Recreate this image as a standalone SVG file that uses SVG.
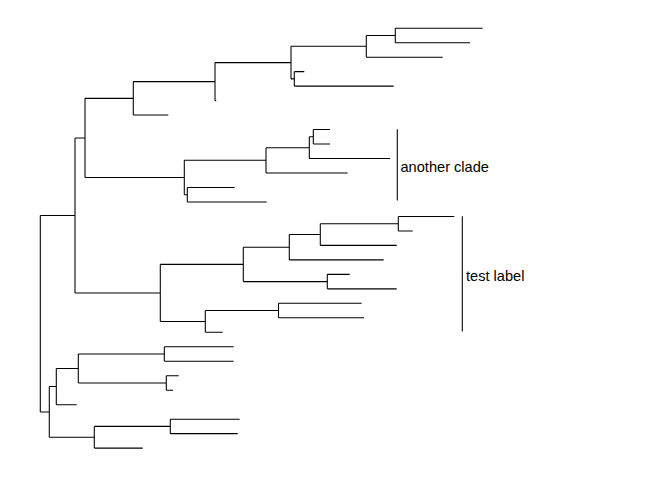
<svg xmlns="http://www.w3.org/2000/svg" width="672" height="480" viewBox="0 0 672 480">
<style>
.br{fill:none;stroke:#000;stroke-width:1.07;stroke-linecap:butt}
.lbl{font-family:"Liberation Sans",Arial,sans-serif;font-size:14.6px;fill:#000}
</style>
<rect width="672" height="480" fill="#fff"/>
<g id="connectors">
<path class="br" d="M40.3,215.42V411.92M40.3,215.42H75M40.3,411.92H49.3"/>
<path class="br" d="M75,137.93V292.91M75,137.93H85M75,292.91H160.3"/>
<path class="br" d="M85,98.34V177.53M85,98.34H133.3M85,177.53H184.3"/>
<path class="br" d="M133.3,81.6V115.08M133.3,81.6H215M133.3,115.08H168.3"/>
<path class="br" d="M215,62.59V100.6M215,62.59H291M215,100.6H216.2"/>
<path class="br" d="M291,46.3V78.88M291,46.3H366.3M291,78.88H294.3"/>
<path class="br" d="M366.3,35.44V57.16M366.3,35.44H395.3M366.3,57.16H442.7"/>
<path class="br" d="M395.3,28.2V42.68M395.3,28.2H482.7M395.3,42.68H470"/>
<path class="br" d="M294.3,71.64V86.12M294.3,71.64H304.3M294.3,86.12H393.7"/>
<path class="br" d="M184.3,160.33V194.72M184.3,160.33H266M184.3,194.72H187.3"/>
<path class="br" d="M266,147.66V173M266,147.66H309.3M266,173H347.7"/>
<path class="br" d="M309.3,136.8V158.52M309.3,136.8H313.3M309.3,158.52H390"/>
<path class="br" d="M313.3,129.56V144.04M313.3,129.56H330M313.3,144.04H330"/>
<path class="br" d="M187.3,187.48V201.96M187.3,187.48H234.7M187.3,201.96H266.7"/>
<path class="br" d="M160.3,264.4V321.42M160.3,264.4H243.3M160.3,321.42H205.3"/>
<path class="br" d="M243.3,247.21V281.6M243.3,247.21H289.3M243.3,281.6H327.3"/>
<path class="br" d="M289.3,234.54V259.88M289.3,234.54H320.3M289.3,259.88H383.7"/>
<path class="br" d="M320.3,223.68V245.4M320.3,223.68H398.3M320.3,245.4H396.7"/>
<path class="br" d="M398.3,216.44V230.92M398.3,216.44H454.3M398.3,230.92H412.7"/>
<path class="br" d="M327.3,274.36V288.84M327.3,274.36H349.7M327.3,288.84H396.7"/>
<path class="br" d="M205.3,310.56V332.28M205.3,310.56H278.5M205.3,332.28H222.7"/>
<path class="br" d="M278.5,303.32V317.8M278.5,303.32H361.7M278.5,317.8H364"/>
<path class="br" d="M49.3,386.58V437.26M49.3,386.58H56.3M49.3,437.26H94.3"/>
<path class="br" d="M56.3,368.48V404.68M56.3,368.48H78.3M56.3,404.68H76.7"/>
<path class="br" d="M78.3,354V382.96M78.3,354H164.3M78.3,382.96H166.3"/>
<path class="br" d="M164.3,346.76V361.24M164.3,346.76H233.7M164.3,361.24H233.7"/>
<path class="br" d="M166.3,375.72V390.2M166.3,375.72H178.7M166.3,390.2H173"/>
<path class="br" d="M94.3,426.4V448.12M94.3,426.4H170.3M94.3,448.12H142.7"/>
<path class="br" d="M170.3,419.16V433.64M170.3,419.16H239.7M170.3,433.64H237.7"/>
</g>
<g id="clade-another">
<path class="br" d="M397.3,129.3V200.6"/>
<text class="lbl" x="400.5" y="172.3">another clade</text>
</g>
<g id="clade-test">
<path class="br" d="M462.3,216.2V331.6"/>
<text class="lbl" x="466" y="281.3">test label</text>
</g>
</svg>
